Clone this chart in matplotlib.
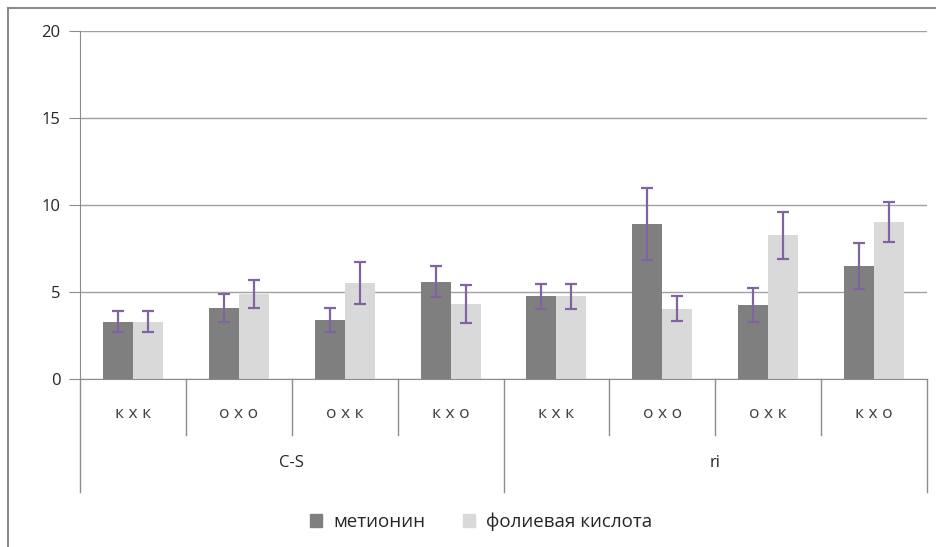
import numpy as np
import matplotlib.pyplot as plt
from matplotlib.lines import Line2D
from matplotlib.patches import Patch

plt.rcParams["font.family"] = ["Open Sans", "DejaVu Sans"]

# data
categories = ["к х к", "о х о", "о х к", "к х о", "к х к", "о х о", "о х к", "к х о"]
groups = ["C-S", "ri"]
series_names = ["метионин", "фолиевая кислота"]
methionine = [3.3, 4.1, 3.4, 5.6, 4.75, 8.9, 4.25, 6.5]
methionine_err = [0.6, 0.8, 0.7, 0.9, 0.7, 2.05, 1.0, 1.3]
folic = [3.3, 4.9, 5.5, 4.3, 4.75, 4.05, 8.25, 9.0]
folic_err = [0.6, 0.8, 1.2, 1.08, 0.7, 0.7, 1.35, 1.15]
y_ticks = [0, 5, 10, 15, 20]

W, H = 937, 547
fig = plt.figure(figsize=(W / 100, H / 100), dpi=100)

left, right, top, bottom = 80, 927, 31, 379
ax = fig.add_axes([left / W, 1 - bottom / H, (right - left) / W, (bottom - top) / H])

x = np.arange(len(categories))
bw = 0.283
dark = "#7f7f7f"
light = "#d9d9d9"
err_col = "#8064a2"

ax.bar(x - bw / 2, methionine, bw, color=dark, zorder=2)
ax.bar(x + bw / 2, folic, bw, color=light, zorder=2)
ax.errorbar(x - bw / 2, methionine, yerr=methionine_err, fmt="none",
            ecolor=err_col, elinewidth=1.6, capsize=4, capthick=1.6, zorder=3)
ax.errorbar(x + bw / 2, folic, yerr=folic_err, fmt="none",
            ecolor=err_col, elinewidth=1.6, capsize=4, capthick=1.6, zorder=3)

ax.set_xlim(-0.5, len(categories) - 0.5)
ax.set_ylim(0, 20)
ax.set_yticks(y_ticks)
ax.yaxis.grid(True, color="#a0a0a0", linewidth=1.0, zorder=0)
ax.set_axisbelow(True)
ax.set_xticks([])
ax.tick_params(axis="y", length=8, color="#8c8c8c", labelsize=12,
               labelcolor="#262626", pad=6)
for s in ["top", "right"]:
    ax.spines[s].set_visible(False)
ax.spines["left"].set_color("#8c8c8c")
ax.spines["bottom"].set_color("#8c8c8c")

# category and group labels under the axis
ph = bottom - top
row1 = -(435 - bottom) / ph
row2 = -(492 - bottom) / ph
tr = ax.get_xaxis_transform()
for i, c in enumerate(categories):
    ax.text(i, -(414 - bottom) / ph, c, transform=tr, ha="center", va="center",
            fontsize=12.5, color="#404040")
for i, g in enumerate(groups):
    ax.text(i * 4 + 1.5, -(463 - bottom) / ph, g, transform=tr, ha="center",
            va="center", fontsize=12, color="#262626")
for k in range(len(categories) + 1):
    xs = k - 0.5
    yb = row2 if k % 4 == 0 else row1
    ax.plot([xs, xs], [0, yb], transform=tr, color="#8c8c8c", lw=1.0,
            clip_on=False)

# legend
handles = [Patch(color=dark), Patch(color=light)]
fig.legend(handles, series_names, loc="center", bbox_to_anchor=(481 / W, 1 - 522 / H),
           ncol=2, frameon=False, fontsize=13.5, handlelength=0.65, handleheight=0.65,
           columnspacing=2.0, handletextpad=0.6, labelcolor="#262626")

# outer chart border (only top and left visible)
fig.add_artist(Line2D([8 / W, 1], [1 - 8 / H, 1 - 8 / H], transform=fig.transFigure,
                      color="#8c8c8c", lw=1.5))
fig.add_artist(Line2D([8 / W, 8 / W], [1 - 8 / H, 0], transform=fig.transFigure,
                      color="#8c8c8c", lw=1.5))

fig.savefig("out.png", dpi=100)
